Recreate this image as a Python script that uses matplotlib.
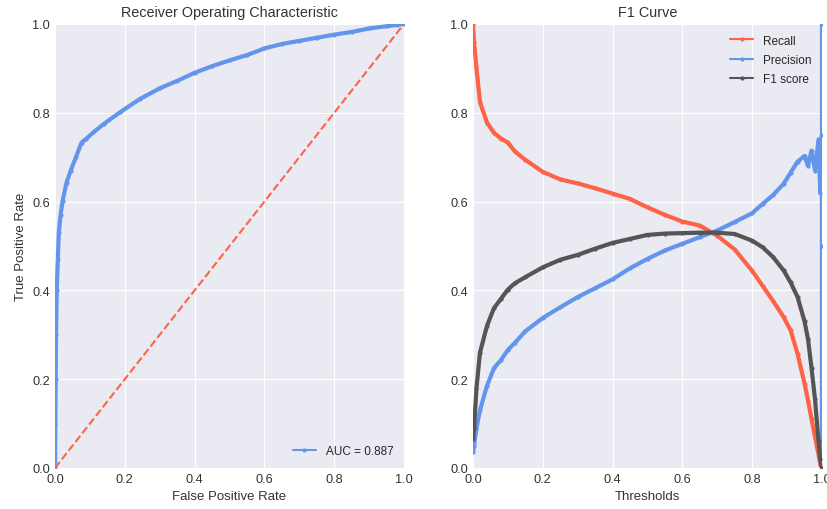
import numpy as np
import matplotlib
matplotlib.use("Agg")
import matplotlib.pyplot as plt

plt.style.use("seaborn-v0_8-darkgrid")

# ROC curve
fpr = [0, 0.001, 0.002, 0.003, 0.005, 0.008, 0.011, 0.016, 0.022, 0.033, 0.045,
       0.06, 0.076, 0.09, 0.11, 0.14, 0.186, 0.243, 0.3, 0.35, 0.4, 0.45, 0.5,
       0.55, 0.6, 0.65, 0.7, 0.75, 0.8, 0.85, 0.9, 0.95, 0.98, 1.0]
tpr = [0, 0.1, 0.2, 0.3, 0.4, 0.47, 0.531, 0.57, 0.602, 0.643, 0.67,
       0.70, 0.733, 0.742, 0.756, 0.775, 0.801, 0.831, 0.855, 0.872, 0.89, 0.905, 0.918,
       0.93, 0.945, 0.955, 0.962, 0.969, 0.976, 0.982, 0.99, 0.995, 0.998, 1.0]
auc = 0.887

# F1 curve
thresholds = [0.0, 0.003, 0.01, 0.02, 0.04, 0.06, 0.08, 0.1, 0.12, 0.15, 0.2, 0.25,
              0.3, 0.35, 0.4, 0.45, 0.5, 0.55, 0.6, 0.65, 0.7, 0.75, 0.8, 0.83, 0.86,
              0.89, 0.91, 0.93, 0.95, 0.96, 0.97, 0.98, 0.99, 0.995, 1.0]
recall = [1.0, 0.96, 0.90, 0.824, 0.778, 0.755, 0.742, 0.733, 0.713, 0.694, 0.667, 0.65,
          0.641, 0.63, 0.618, 0.606, 0.587, 0.57, 0.555, 0.546, 0.523, 0.492, 0.444, 0.41, 0.376,
          0.34, 0.31, 0.257, 0.19, 0.152, 0.11, 0.07, 0.03, 0.008, 0.0]
f1 = [0.065, 0.09, 0.18, 0.26, 0.32, 0.36, 0.381, 0.402, 0.416, 0.43, 0.452, 0.469,
      0.48, 0.494, 0.507, 0.516, 0.525, 0.528, 0.529, 0.53, 0.53, 0.527, 0.512, 0.497, 0.475,
      0.445, 0.418, 0.385, 0.33, 0.29, 0.225, 0.155, 0.06, 0.02, 0.0]
precision = [0.035, 0.05, 0.09, 0.13, 0.185, 0.225, 0.243, 0.266, 0.282, 0.308, 0.338, 0.362,
             0.385, 0.405, 0.425, 0.45, 0.471, 0.49, 0.505, 0.52, 0.535, 0.554, 0.574, 0.595, 0.615,
             0.64, 0.665, 0.69, 0.703, 0.68, 0.715, 0.67, 0.74, 0.62, 0.75]
# last thresholds, where precision jumps along x = 1
prec_tail_x = [1.0, 1.0, 1.0]
prec_tail_y = [0.5, 0.0, 1.0]

blue = "#6495ED"
red = "#FF6347"
gray = "#555555"
text_color = "#333333"

fig = plt.figure(figsize=(8.27, 5.10), dpi=100)
ax1 = fig.add_axes([55 / 827, 41 / 510, 349 / 827, 444 / 510])
ax2 = fig.add_axes([473 / 827, 41 / 510, 349 / 827, 444 / 510])

ax1.plot(fpr, tpr, color=blue, lw=3, marker=".", ms=4, label="AUC = %0.3f" % auc)
ax1.plot([0, 1], [0, 1], color=red, ls="--", lw=1.5)
ax1.set_xlim(0, 1)
ax1.set_ylim(0, 1)
ax1.set_title("Receiver Operating Characteristic", fontsize=10.4, color=text_color)
ax1.set_xlabel("False Positive Rate", fontsize=9.5, color=text_color)
ax1.set_ylabel("True Positive Rate", fontsize=9.5, color=text_color)
leg1 = ax1.legend(loc="lower right", frameon=False, fontsize=8.5)
for ln in leg1.get_lines():
    ln.set_linewidth(1.5)

ax2.plot(thresholds, recall, color=red, lw=3, marker=".", ms=4, label="Recall")
ax2.plot(thresholds + prec_tail_x, precision + prec_tail_y, color=blue, lw=3,
         marker=".", ms=4, label="Precision")
ax2.plot(thresholds, f1, color=gray, lw=3, marker=".", ms=4, label="F1 score")
ax2.set_xlim(0, 1)
ax2.set_ylim(0, 1)
ax2.set_title("F1 Curve", fontsize=10.4, color=text_color)
ax2.set_xlabel("Thresholds", fontsize=9.5, color=text_color)
leg2 = ax2.legend(loc="upper right", frameon=False, fontsize=8.5, labelspacing=0.6)
for ln in leg2.get_lines():
    ln.set_linewidth(1.5)

for ax in (ax1, ax2):
    ax.set_xticks(np.arange(0, 1.01, 0.2))
    ax.set_yticks(np.arange(0, 1.01, 0.2))
    ax.tick_params(labelsize=9.2, colors=text_color, length=0)

fig.savefig("out.png", dpi=100)
